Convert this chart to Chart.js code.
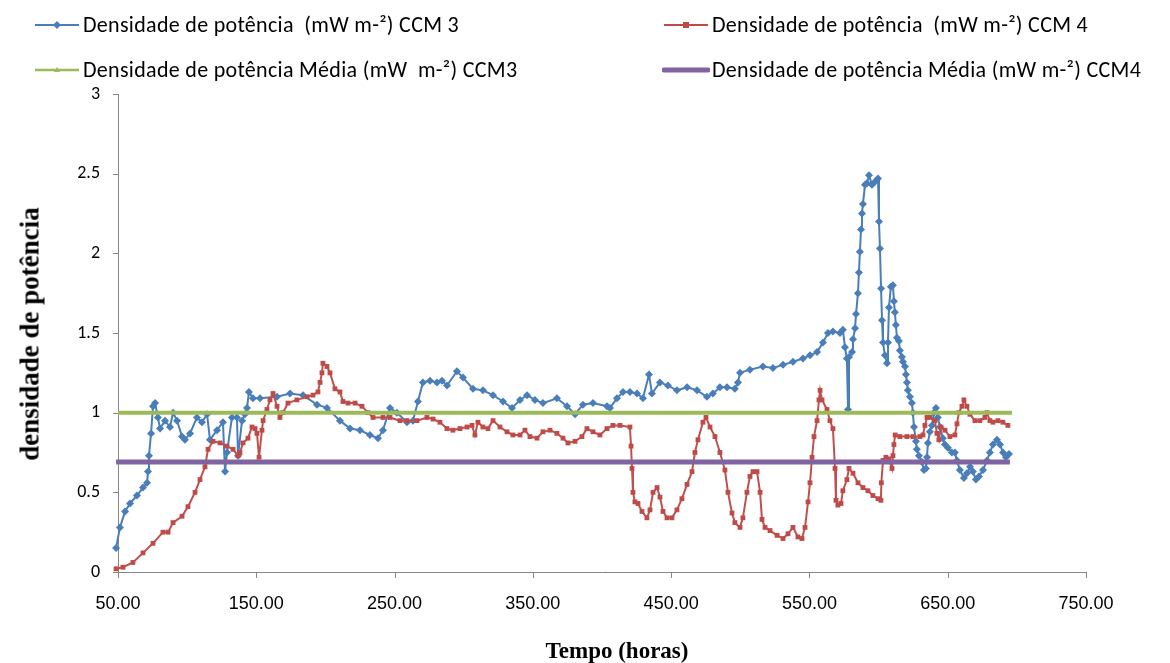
<!DOCTYPE html>
<html>
<head>
<meta charset="utf-8">
<script src="https://cdn.jsdelivr.net/npm/chart.js@4/dist/chart.umd.min.js"></script>
<style>
  html, body { margin: 0; padding: 0; background: #fff; }
  #wrap { position: relative; width: 1170px; height: 663px; overflow: hidden; }
  canvas { position: absolute; left: 0; top: 0; }
  .leg { position: absolute; font-family: Carlito, Lato, "Open Sans", sans-serif; font-size: 22px; letter-spacing: 0.3px; color: #000; white-space: pre; line-height: 26px; }
  .leg svg { position: absolute; left: -50px; top: 2px; }
  .ytitle { position: absolute; left: 30px; top: 334px; transform: translate(-50%, -50%) rotate(-90deg); font-family: "Liberation Serif", "DejaVu Serif", serif; font-weight: bold; font-size: 27px; white-space: pre; }
  .xtitle { position: absolute; left: 617px; top: 651px; transform: translate(-50%, -50%); font-family: "Liberation Serif", "DejaVu Serif", serif; font-weight: bold; font-size: 23px; white-space: pre; }
</style>
</head>
<body>
<div id="wrap">
  <canvas id="c" width="1170" height="663"></canvas>
  <div class="leg" style="left:83px; top:12px;"><svg width="48" height="22"><line x1="2" y1="11" x2="46" y2="11" stroke="#4A7EBB" stroke-width="2"/><polygon points="24,7 28,11 24,15 20,11" fill="#4A7EBB"/></svg>Densidade de potência  (mW m-²) CCM 3</div>
  <div class="leg" style="left:712px; top:12px;"><svg width="48" height="22"><line x1="2" y1="11" x2="46" y2="11" stroke="#BE4B48" stroke-width="2"/><rect x="21" y="8" width="6" height="6" fill="#BE4B48"/></svg>Densidade de potência  (mW m-²) CCM 4</div>
  <div class="leg" style="left:83px; top:57px;"><svg width="48" height="22"><line x1="2" y1="11" x2="46" y2="11" stroke="#9BBB59" stroke-width="2.5"/><polygon points="24,8 27,13 21,13" fill="#9BBB59"/></svg>Densidade de potência Média (mW  m-²) CCM3</div>
  <div class="leg" style="left:712px; top:57px;"><svg width="48" height="22"><line x1="2" y1="11" x2="46" y2="11" stroke="#8064A2" stroke-width="5" stroke-linecap="round"/></svg>Densidade de potência Média (mW m-²) CCM4</div>
  <div class="ytitle">densidade de potência</div>
  <div class="xtitle">Tempo (horas)</div>
</div>
<script>
// ---- data ----
const xTicks = [50, 150, 250, 350, 450, 550, 650, 750];
const yTicks = [0, 0.5, 1, 1.5, 2, 2.5, 3];

const timeCCM3 = [48.6,51.4,55.1,58.7,63.7,68.1,71.0,71.7,72.4,73.9,75.3,76.8,78.9,80.4,84.0,87.6,89.8,92.7,96.3,98.4,102.1,107.1,110.7,114.4,116.5,121.6,125.9,127.4,128.8,132.4,136.0,136.8,139.7,141.8,143.3,144.7,147.6,152.7,165.0,174.4,183.8,193.9,201.1,210.5,217.8,225.0,232.2,238.0,241.6,246.7,251.7,259.0,263.3,266.9,270.5,275.6,280.7,284.3,287.9,295.1,299.5,306.7,313.9,321.2,328.4,334.9,340.7,345.8,351.5,357.3,367.4,374.7,380.5,386.2,393.5,403.6,405.8,410.8,415.2,420.2,425.3,429.6,434.0,436.1,441.9,447.7,454.2,461.5,468.7,475.9,480.2,485.3,490.4,496.1,498.3,499.8,507.0,516.4,523.6,530.9,538.1,545.3,550.4,555.5,559.8,563.4,567.0,572.1,574.2,575.7,577.1,577.9,578.6,580.8,581.5,583.0,583.7,585.1,585.8,586.5,587.3,588.0,588.7,590.2,591.6,593.1,595.2,597.4,599.6,600.3,601.0,601.8,602.5,603.2,604.6,606.1,606.8,607.5,608.9,610.4,611.1,611.8,612.5,613.3,614.7,615.4,616.9,617.6,619.1,619.8,620.5,621.2,622.7,624.1,624.8,625.6,627.0,627.7,629.2,631.4,632.8,634.2,635.0,635.7,637.1,638.6,640.0,641.5,642.9,644.4,646.5,648.0,650.1,653.0,655.2,656.7,658.8,661.7,663.9,666.1,668.2,670.4,672.6,675.5,678.4,680.5,682.7,685.6,687.8,690.0,692.1,694.3];
const powerCCM3 = [0.15,0.28,0.38,0.43,0.48,0.53,0.56,0.63,0.73,0.87,1.04,1.06,0.97,0.90,0.95,0.91,1.00,0.95,0.85,0.83,0.87,0.97,0.94,0.99,0.83,0.89,0.94,0.63,0.75,0.97,0.97,0.73,0.95,0.99,1.03,1.13,1.09,1.09,1.10,1.12,1.11,1.05,1.03,0.95,0.90,0.89,0.86,0.84,0.89,1.03,1.00,0.94,0.95,1.07,1.19,1.20,1.19,1.20,1.17,1.26,1.22,1.15,1.14,1.11,1.07,1.03,1.08,1.11,1.08,1.06,1.09,1.04,0.99,1.05,1.06,1.04,1.03,1.09,1.13,1.13,1.12,1.09,1.24,1.12,1.19,1.17,1.14,1.16,1.14,1.10,1.12,1.16,1.16,1.15,1.19,1.25,1.27,1.29,1.28,1.30,1.32,1.34,1.36,1.38,1.44,1.50,1.51,1.50,1.52,1.41,1.34,1.02,1.35,1.38,1.46,1.53,1.62,1.75,1.88,2.01,2.15,2.25,2.31,2.43,2.44,2.49,2.43,2.45,2.47,2.20,2.03,1.78,1.58,1.44,1.36,1.31,1.44,1.66,1.79,1.80,1.70,1.63,1.55,1.47,1.45,1.39,1.35,1.32,1.29,1.24,1.19,1.14,1.10,1.06,1.00,0.91,0.82,0.77,0.73,0.69,0.64,0.65,0.72,0.81,0.88,0.92,1.00,1.03,0.97,0.91,0.84,0.80,0.78,0.75,0.75,0.70,0.64,0.59,0.62,0.66,0.63,0.58,0.60,0.64,0.70,0.75,0.80,0.83,0.80,0.75,0.72,0.74];

const timeCCM4 = [48.6,53.6,60.8,68.1,75.3,82.5,86.2,89.8,96.3,100.6,105.7,109.3,112.9,115.1,118.7,123.8,128.8,133.2,136.8,138.2,140.4,144.0,146.9,149.1,150.5,152.0,154.1,154.9,157.7,159.9,162.1,165.0,167.1,169.3,172.9,179.4,186.7,191.0,194.6,196.1,197.5,198.2,201.1,203.3,206.9,210.5,212.7,216.3,221.4,226.4,230.8,234.4,241.6,246.7,253.9,259.0,266.2,273.4,277.8,282.8,287.9,292.2,297.3,302.4,306.0,308.1,310.3,313.9,317.5,321.2,326.2,331.3,335.6,340.7,344.3,347.9,353.0,357.3,362.4,367.4,371.8,375.4,380.5,385.5,389.1,393.5,398.5,403.6,407.9,413.0,420.2,421.0,421.7,422.4,423.8,426.0,428.9,432.5,434.7,436.9,439.8,441.9,444.1,447.0,450.6,454.2,457.8,461.5,465.1,467.2,469.4,473.0,475.2,478.1,481.7,485.3,488.9,491.1,494.0,496.1,499.8,501.9,504.8,507.0,509.2,512.1,514.3,515.7,517.9,521.5,526.6,530.9,534.5,538.1,541.7,544.6,546.8,549.0,550.4,551.9,553.3,555.5,556.9,557.7,559.1,562.7,564.8,567.0,568.5,569.2,570.6,572.8,574.2,577.1,578.6,581.5,585.1,588.7,592.3,595.9,599.6,601.7,602.0,603.2,605.3,607.5,609.7,610.4,611.1,612.0,615.4,620.5,624.8,629.9,632.1,633.5,635.0,637.1,640.7,642.2,643.6,645.1,648.0,651.6,655.2,656.7,658.1,660.3,661.7,663.9,666.1,669.7,673.3,676.9,678.4,680.5,682.7,686.3,689.9,693.5];
const powerCCM4 = [0.02,0.03,0.06,0.12,0.18,0.25,0.25,0.31,0.35,0.41,0.50,0.58,0.66,0.77,0.82,0.81,0.79,0.77,0.73,0.75,0.81,0.84,0.91,0.90,0.87,0.72,0.89,0.95,1.02,1.08,1.12,1.04,0.97,1.00,1.06,1.08,1.10,1.11,1.13,1.19,1.25,1.31,1.29,1.25,1.15,1.13,1.07,1.06,1.06,1.04,1.00,0.97,0.97,0.97,0.95,0.95,0.95,0.97,0.96,0.94,0.90,0.89,0.90,0.91,0.92,0.86,0.94,0.91,0.90,0.95,0.91,0.88,0.86,0.86,0.89,0.85,0.84,0.88,0.89,0.87,0.84,0.81,0.82,0.85,0.90,0.88,0.86,0.90,0.92,0.92,0.91,0.79,0.65,0.50,0.44,0.43,0.38,0.34,0.39,0.50,0.53,0.47,0.38,0.34,0.34,0.39,0.46,0.55,0.63,0.75,0.83,0.94,0.97,0.91,0.85,0.75,0.64,0.50,0.37,0.31,0.28,0.34,0.50,0.60,0.63,0.63,0.50,0.33,0.28,0.26,0.23,0.21,0.24,0.28,0.22,0.21,0.28,0.44,0.56,0.72,0.85,0.95,1.08,1.14,1.08,1.02,0.95,0.90,0.65,0.45,0.42,0.43,0.51,0.58,0.65,0.62,0.56,0.53,0.51,0.48,0.46,0.45,0.56,0.70,0.72,0.71,0.65,0.73,0.80,0.86,0.85,0.85,0.85,0.85,0.86,0.92,0.97,0.97,0.95,0.87,0.83,0.91,0.89,0.85,0.86,0.93,1.00,1.04,1.08,1.04,0.99,0.95,0.95,0.97,1.00,0.95,0.94,0.95,0.94,0.92];

const meanCCM3 = 1.0;
const meanCCM4 = 0.69;
const meanSpanCCM3 = [50, 696.5];
const meanSpanCCM4 = [48.6, 695];

// ---- build datasets ----
const pts = (xs, ys) => xs.map((x, i) => ({ x: x, y: ys[i] }));
const flat = (span, v) => span.map(x => ({ x: x, y: v }));

new Chart(document.getElementById('c'), {
  type: 'scatter',
  data: {
    datasets: [
      { label: 'Densidade de potência Média (mW m-²) CCM4', data: flat(meanSpanCCM4, meanCCM4), showLine: true,
        borderColor: '#8064A2', borderWidth: 5, pointRadius: 0, order: 1, clip: 10 },
      { label: 'Densidade de potência Média (mW  m-²) CCM3', data: flat(meanSpanCCM3, meanCCM3), showLine: true,
        borderColor: '#9BBB59', borderWidth: 4, pointRadius: 0, order: 2, clip: 10 },
      { label: 'Densidade de potência  (mW m-²) CCM 4', data: pts(timeCCM4, powerCCM4), showLine: true,
        borderColor: '#C0504D', backgroundColor: '#BE4B48', borderWidth: 2,
        pointStyle: 'rect', pointRadius: 3.4, pointBorderWidth: 0, order: 3, clip: 10 },
      { label: 'Densidade de potência  (mW m-²) CCM 3', data: pts(timeCCM3, powerCCM3), showLine: true,
        borderColor: '#4A7EBB', backgroundColor: '#4A7EBB', borderWidth: 2,
        pointStyle: 'rectRot', pointRadius: 4, pointBorderWidth: 0, order: 4, clip: 10 }
    ]
  },
  options: {
    responsive: false,
    animation: false,
    layout: { padding: { left: 0, top: 94, right: 84, bottom: 0 } },
    plugins: { legend: { display: false }, tooltip: { enabled: false } },
    scales: {
      x: {
        type: 'linear', min: 50, max: 750,
        afterBuildTicks: (s) => { s.ticks = xTicks.map(v => ({ value: v })); },
        afterFit: (s) => { s.height = 91; },
        grid: { display: false, drawOnChartArea: false, drawTicks: true, tickLength: 6, color: '#868686' },
        border: { display: true, color: '#868686', width: 1 },
        ticks: {
          callback: (v) => Number(v).toFixed(2),
          font: { family: '"Liberation Sans Narrow", "Liberation Sans", sans-serif', size: 18 },
          color: '#000', padding: 15, maxRotation: 0, autoSkip: false
        }
      },
      y: {
        type: 'linear', min: 0, max: 3,
        afterBuildTicks: (s) => { s.ticks = yTicks.map(v => ({ value: v })); },
        afterFit: (s) => { s.width = 118; },
        grid: { display: false, drawOnChartArea: false, drawTicks: true, tickLength: 5, color: '#868686' },
        border: { display: true, color: '#868686', width: 1 },
        ticks: {
          callback: (v) => String(v),
          font: { family: 'Carlito, Lato, "Open Sans", sans-serif', size: 18 },
          color: '#000', padding: 13
        }
      }
    }
  },
  plugins: [{
    id: 'tickMarks',
    afterDraw(chart) {
      const ctx = chart.ctx, xs = chart.scales.x, ys = chart.scales.y;
      ctx.save();
      ctx.strokeStyle = '#868686'; ctx.lineWidth = 1;
      ctx.beginPath();
      xTicks.forEach(v => { const p = Math.round(xs.getPixelForValue(v)) + 0.5; ctx.moveTo(p, ys.bottom); ctx.lineTo(p, ys.bottom + 6); });
      yTicks.forEach(v => { const p = Math.round(ys.getPixelForValue(v)) + 0.5; ctx.moveTo(xs.left - 5, p); ctx.lineTo(xs.left, p); });
      ctx.stroke();
      ctx.restore();
    }
  }]
});
</script>
</body>
</html>
